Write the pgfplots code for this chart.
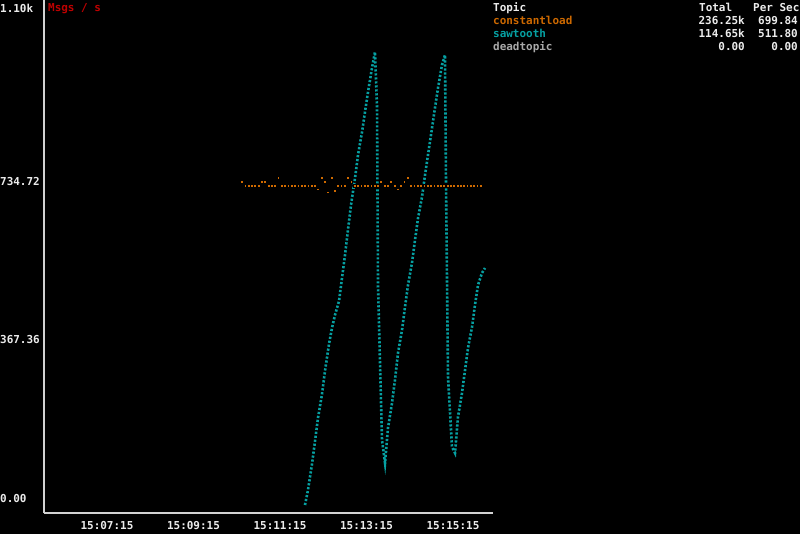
\documentclass[border=0pt]{standalone}
\usepackage{pgfplots}
\pgfplotsset{compat=1.18}
\usepackage{pgfplotstable}
\usepackage{fontspec}
\setmainfont{DejaVu Sans Mono}
\setmonofont{DejaVu Sans Mono}
\definecolor{orangec}{RGB}{205,105,0}
\definecolor{cyanc}{RGB}{6,160,162}
\definecolor{greyc}{RGB}{170,170,170}
\definecolor{redc}{RGB}{190,0,0}
\definecolor{fgc}{RGB}{235,235,235}
\definecolor{axc}{RGB}{210,210,210}

% constantload (x = seconds since 15:00:00, y = msgs/s)
\pgfplotstableread{
x y
622.0 750
626.6 740
631.2 740
635.8 740
640.4 740
645.0 740
649.6 750
654.2 750
658.8 740
663.4 740
668.0 740
672.6 758
677.2 740
681.8 740
686.4 740
691.0 740
695.6 740
700.2 740
704.8 740
709.4 740
714.0 740
718.6 740
723.2 740
727.8 732
732.4 758
737.0 750
741.6 725
746.2 758
750.8 728
755.4 740
760.0 740
764.6 740
769.2 758
773.8 750
778.4 740
783.0 740
787.6 740
792.2 740
796.8 740
801.4 740
806.0 740
810.6 740
815.2 750
819.8 740
824.4 740
829.0 750
833.6 740
838.2 732
842.8 740
847.4 750
852.0 758
856.6 740
861.2 740
865.8 740
870.4 740
875.0 740
879.6 740
884.2 740
888.8 740
893.4 740
898.0 740
902.6 740
907.2 740
911.8 740
916.4 740
921.0 740
925.6 740
930.2 740
934.8 740
939.4 740
944.0 740
948.6 740
953.2 740
}\constanttab

% sawtooth
\pgfplotstableread{
x y
709.7 0
713.8 34.8
719.4 95.0
723.6 148.4
727.7 201.7
733.3 257.3
737.4 310.6
743.0 373.2
747.1 410.3
751.3 440.4
756.9 472.9
761.0 526.2
765.2 579.5
769.3 637.5
773.5 695.4
779.1 758.0
783.2 811.3
788.8 864.6
792.9 911.0
797.1 957.3
802.6 1013.0
806.8 1050.1
809.6 922.6
811.0 505.3
816.5 150.7
820.7 97.4
824.8 178.5
830.4 236.4
834.5 289.8
838.7 352.3
844.3 405.7
848.4 459.0
852.6 510.0
858.1 561.0
862.3 614.3
866.5 665.3
872.0 714.0
876.2 764.9
880.3 811.3
885.9 873.9
890.0 920.2
894.2 966.6
899.7 1019.9
903.9 1043.1
905.3 746.4
908.1 296.7
913.6 134.4
917.8 120.5
921.9 204.0
927.5 259.6
931.7 312.9
935.8 363.9
941.4 412.6
945.5 463.6
949.7 510.0
955.2 537.8
959.4 549.4
}\sawtab

\begin{document}
\begin{tikzpicture}[font=\fontsize{11}{13}\selectfont\bfseries]
\fill[black] (0bp,0bp) rectangle (800bp,534bp);
\useasboundingbox (0bp,0bp) rectangle (800bp,534bp);
\begin{axis}[
  at={(44bp,21bp)}, anchor=south west,
  scale only axis, width=449bp, height=513bp,
  xmin=347.6, xmax=970.5, ymin=-18.5, ymax=1170.6,
  axis x line*=bottom, axis y line*=left,
  axis line style={axc, line width=1.5bp, -},
  xtick={435,555,675,795,915},
  xticklabels={15:07:15,15:09:15,15:11:15,15:13:15,15:15:15},
  ytick={0,367.36,734.72},
  yticklabels={0.00,367.36,734.72},
  extra y ticks={1135}, extra y tick labels={1.10k},
  major tick length=0pt, tick style={draw=none},
  yticklabel style={anchor=base west, xshift=-44bp, yshift=3bp, inner xsep=0pt, text=fgc},
  xticklabel style={anchor=base, yshift=-16bp, text=fgc},
]
\addplot[only marks, mark=square*, mark size=1.4bp, mark options={draw=none, fill=orangec}] table {\constanttab};
\addplot[cyanc, line width=2.6bp, dash pattern=on 2.2bp off 1.8bp] table {\sawtab};
\node[anchor=base west, inner sep=0pt, text=redc] at (axis description cs:0,1) [xshift=4bp, yshift=-12bp] {Msgs / s};
\end{axis}
\begin{scope}[every node/.style={inner sep=0pt}]
\node[anchor=base west, text=fgc] at (493bp,522bp) {Topic};
\node[anchor=base west, text=orangec] at (493bp,509bp) {constantload};
\node[anchor=base west, text=cyanc] at (493bp,496bp) {sawtooth};
\node[anchor=base west, text=greyc] at (493bp,483bp) {deadtopic};
\node[anchor=base west, text=fgc] at (699bp,522bp) {Total};
\node[anchor=base west, text=fgc] at (753bp,522bp) {Per Sec};
\node[anchor=base east, text=fgc] at (745bp,509bp) {236.25k};
\node[anchor=base east, text=fgc] at (798bp,509bp) {699.84};
\node[anchor=base east, text=fgc] at (745bp,496bp) {114.65k};
\node[anchor=base east, text=fgc] at (798bp,496bp) {511.80};
\node[anchor=base east, text=fgc] at (745bp,483bp) {0.00};
\node[anchor=base east, text=fgc] at (798bp,483bp) {0.00};
\end{scope}
\end{tikzpicture}
\end{document}
